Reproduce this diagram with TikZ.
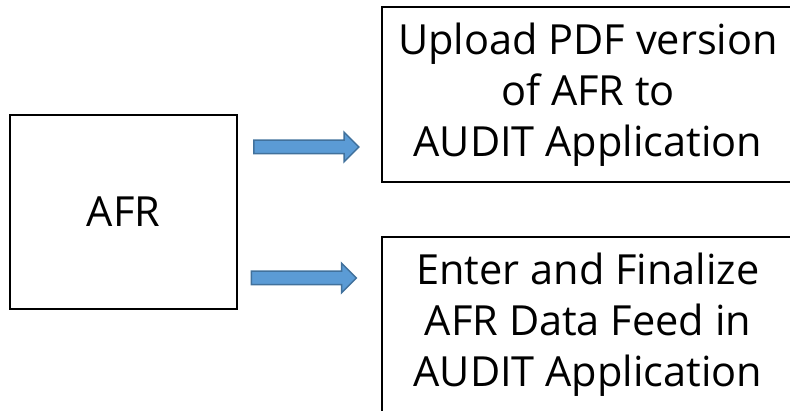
\documentclass[tikz,border=0pt]{standalone}
\usepackage{fontspec}
\setmainfont{Open Sans}
\usepackage{tikz}
\usetikzlibrary{calc, shapes.arrows}
\definecolor{arrowfill}{HTML}{5B9BD5}
\definecolor{arrowline}{HTML}{41719C}
\tikzstyle{block} = [draw, line width=1.3pt, rectangle, align=center,
inner sep=0pt, font=\fontsize{41.5}{51}\selectfont]
\tikzstyle{fatarrow} = [draw=arrowline, fill=arrowfill, line width=1.5pt,
single arrow, single arrow head extend=8pt, minimum height=105pt,
inner xsep=0pt, inner ysep=6pt]

\begin{document}
\begin{tikzpicture}[x=1pt,y=1pt]
      \useasboundingbox (0,0) rectangle (790,411);
      \node [block, minimum width=227pt, minimum height=194pt] (afr) at (123.5,199) {AFR};
      \node [block, minimum width=412pt, minimum height=175pt] (upload) at (588,316.5)
        {Upload PDF version\\of AFR to\\AUDIT Application};
      \node [block, minimum width=412pt, minimum height=175pt] (enter) at (588,86.5)
        {Enter and Finalize\\AFR Data Feed in\\AUDIT Application};
      \node [fatarrow] (toupload) at (303,264) {};
      \node [fatarrow] (toenter) at (300.5,133) {};
\end{tikzpicture}
\end{document}
